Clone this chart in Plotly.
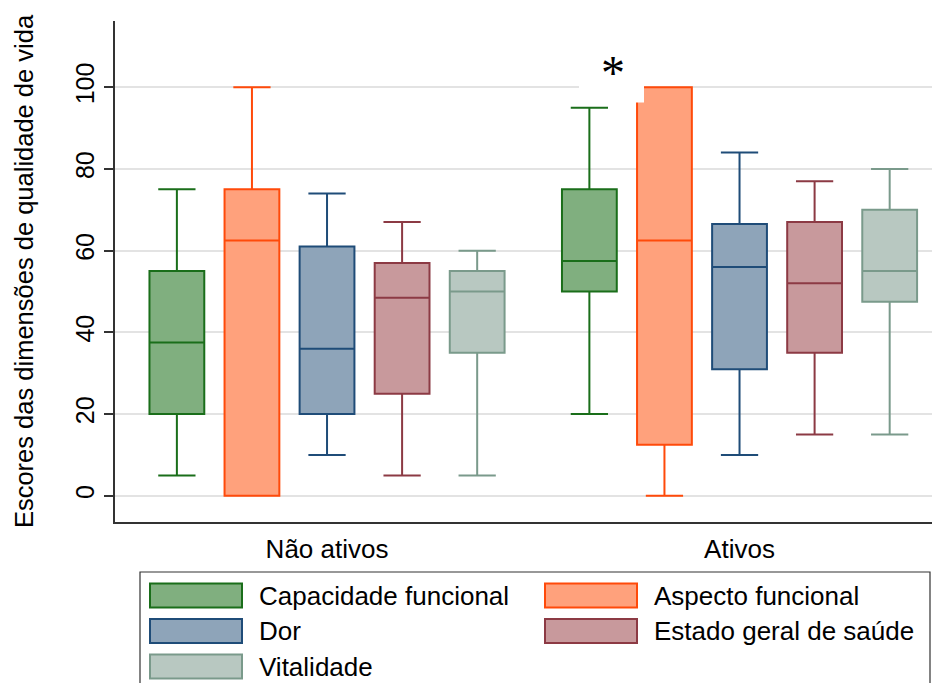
import plotly.graph_objects as go

groups = ["Não ativos", "Ativos"]
dimensions = ["Capacidade funcional", "Aspecto funcional", "Dor",
              "Estado geral de saúde", "Vitalidade"]

# [Não ativos, Ativos]
lower_fence = {
    "Capacidade funcional": [5, 20],
    "Aspecto funcional": [0, 0],
    "Dor": [10, 10],
    "Estado geral de saúde": [5, 15],
    "Vitalidade": [5, 15],
}
q1_vals = {
    "Capacidade funcional": [20, 50],
    "Aspecto funcional": [0, 12.5],
    "Dor": [20, 31],
    "Estado geral de saúde": [25, 35],
    "Vitalidade": [35, 47.5],
}
median_vals = {
    "Capacidade funcional": [37.5, 57.5],
    "Aspecto funcional": [62.5, 62.5],
    "Dor": [36, 56],
    "Estado geral de saúde": [48.5, 52],
    "Vitalidade": [50, 55],
}
q3_vals = {
    "Capacidade funcional": [55, 75],
    "Aspecto funcional": [75, 100],
    "Dor": [61, 66.5],
    "Estado geral de saúde": [57, 67],
    "Vitalidade": [55, 70],
}
upper_fence = {
    "Capacidade funcional": [75, 95],
    "Aspecto funcional": [100, 100],
    "Dor": [74, 84],
    "Estado geral de saúde": [67, 77],
    "Vitalidade": [60, 80],
}
y_ticks = [0, 20, 40, 60, 80, 100]
y_title = "Escores das dimensões de qualidade de vida"
star_text = "*"

line_colors = ["#1a6e1a", "#ff4a0a", "#1f4c78", "#8c3a44", "#7a9a8b"]
fill_colors = ["#80af7f", "#ffa17c", "#8ea4b9", "#c8999c", "#b8c8c1"]

# page body has an 8px margin; work in screen pixels and convert
OFF = 8
W, H = 940 - OFF, 683 - OFF
PL, PR, PT, PB = 115, 940, 21, 522          # plot area in screen pixels
L, R, T, B = PL - OFF, 0, PT - OFF, 683 - PB
pw, ph = PR - PL, PB - PT


def px(x):
    return (x - PL) / pw


def py(y):
    return (PB - y) / ph


fig = go.Figure()
for i, d in enumerate(dimensions):
    fig.add_trace(go.Box(
        name=d,
        x=groups,
        q1=q1_vals[d],
        median=median_vals[d],
        q3=q3_vals[d],
        lowerfence=lower_fence[d],
        upperfence=upper_fence[d],
        fillcolor=fill_colors[i],
        line=dict(color=line_colors[i], width=2),
        whiskerwidth=0.68,
        boxpoints=False,
        showlegend=False,
    ))

shapes = []
annotations = []

# white patch around the asterisk
shapes.append(dict(type="rect", xref="paper", yref="paper",
                   x0=px(579), x1=px(644), y0=py(102.5), y1=py(40),
                   fillcolor="white", line=dict(width=0), layer="above"))
annotations.append(dict(text=star_text, xref="paper", yref="paper",
                        x=px(612.5), y=py(72), showarrow=False,
                        xanchor="center", yanchor="middle",
                        font=dict(family="Liberation Serif", size=48,
                                  color="black")))

# manual legend
shapes.append(dict(type="rect", xref="paper", yref="paper",
                   x0=px(140), x1=px(930), y0=py(700), y1=py(572),
                   line=dict(color="#333333", width=1.2),
                   fillcolor="rgba(0,0,0,0)"))
col_x = [150, 545]
row_y = [583.5, 619, 654.5]
for i, d in enumerate(dimensions):
    r, c = divmod(i, 2)
    x0 = col_x[c]
    y0 = row_y[r]
    shapes.append(dict(type="rect", xref="paper", yref="paper",
                       x0=px(x0), x1=px(x0 + 92), y0=py(y0 + 24), y1=py(y0),
                       fillcolor=fill_colors[i],
                       line=dict(color=line_colors[i], width=2)))
    annotations.append(dict(text=d, xref="paper", yref="paper",
                            x=px(x0 + 107), y=py(y0 + 12), showarrow=False,
                            xanchor="left", yanchor="middle",
                            font=dict(family="Liberation Sans", size=26,
                                      color="black")))

fig.update_layout(
    width=W, height=H,
    margin=dict(l=L, r=R, t=T, b=B, pad=0),
    paper_bgcolor="white", plot_bgcolor="white",
    boxmode="group", boxgap=0.09, boxgroupgap=0.27,
    font=dict(family="Liberation Sans", color="black"),
    shapes=shapes, annotations=annotations,
    xaxis=dict(
        type="category", range=[-0.514, 1.486],
        showline=True, linecolor="#333333", linewidth=1.5,
        ticks="", showgrid=False, zeroline=False,
        tickfont=dict(size=26, color="black"),
        ticklabelstandoff=3,
    ),
    yaxis=dict(
        range=[-6.4, 116.2], tickvals=y_ticks,
        showline=True, linecolor="#333333", linewidth=1.5,
        ticks="outside", ticklen=9, tickwidth=1.5, tickcolor="#333333",
        showgrid=True, gridcolor="#e3e3e3", gridwidth=1.5,
        zeroline=False, tickangle=-90,
        tickfont=dict(size=25, color="black"),
        title=dict(text=y_title, font=dict(size=25.5, color="black"),
                   standoff=30),
    ),
)

fig.write_html("out.html")
